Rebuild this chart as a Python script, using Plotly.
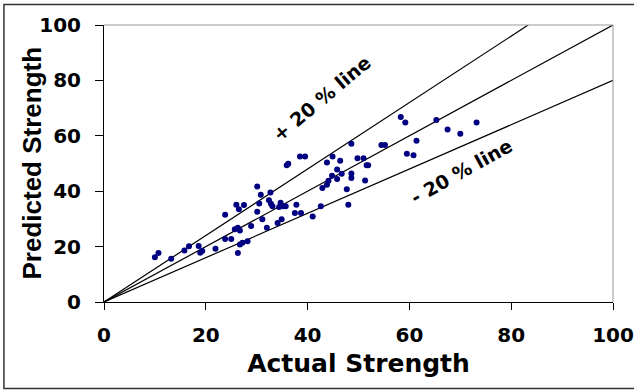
import plotly.graph_objects as go

# Data
actual = [10.0, 10.7, 13.2, 15.8, 16.7, 18.6, 18.9, 19.3, 21.9, 23.8, 23.8, 25.0, 25.7, 26.0,
          26.3, 26.3, 26.5, 26.7, 26.7, 27.2, 27.5, 28.2, 28.9, 30.1, 30.1, 30.5, 30.8, 31.1,
          32.0, 32.4, 32.7, 32.8, 33.1, 34.1, 34.4, 34.7, 34.9, 35.2, 35.7, 35.9, 36.2, 37.5,
          37.8, 38.5, 38.7, 39.5, 41.0, 42.6, 42.9, 43.8, 43.8, 44.1, 44.8, 44.9, 45.8, 45.8,
          46.4, 46.7, 47.7, 48.0, 48.6, 48.6, 48.6, 49.8, 51.0, 51.3, 51.6, 51.9, 54.5, 55.2,
          58.3, 59.2, 59.5, 60.8, 61.4, 65.3, 67.5, 70.0, 73.2]
predicted = [16.2, 17.7, 15.6, 18.6, 20.1, 20.2, 17.8, 18.4, 19.2, 31.5, 22.7, 22.7, 26.3, 35.1,
             26.8, 17.7, 33.5, 25.8, 20.8, 21.4, 35.0, 21.9, 27.4, 41.7, 32.6, 35.6, 38.7, 29.9,
             26.8, 36.7, 39.5, 35.5, 34.6, 28.5, 34.3, 35.8, 29.9, 34.6, 34.6, 49.4, 49.9, 32.1,
             35.1, 52.5, 32.1, 52.5, 30.9, 34.6, 41.2, 50.4, 42.3, 43.8, 45.6, 52.5, 44.4, 47.8,
             51.0, 46.3, 40.7, 35.1, 57.1, 46.4, 44.8, 51.9, 51.9, 43.9, 49.4, 49.4, 56.7, 56.7,
             66.8, 64.8, 53.5, 53.0, 58.2, 65.7, 62.3, 60.7, 64.8]

ratios = [0.8, 1.0, 1.2]          # -20 %, equality, +20 % lines
axis_max = 100
tick_vals = [0, 20, 40, 60, 80, 100]
label_plus = "+ 20 % line"
label_minus = "- 20 % line"
x_title = "Actual Strength"
y_title = "Predicted Strength"

fig = go.Figure()

for r in ratios:
    x_end = min(axis_max, axis_max / r)
    fig.add_trace(go.Scatter(x=[0, x_end], y=[0, x_end * r], mode="lines",
                             line=dict(color="black", width=1.2),
                             showlegend=False, hoverinfo="skip"))

fig.add_trace(go.Scatter(x=actual, y=predicted, mode="markers",
                         marker=dict(color="#000080", size=6),
                         showlegend=False))

tick_font = dict(family="DejaVu Sans", size=20, color="black", weight="bold")

fig.update_xaxes(range=[0, axis_max], tickvals=tick_vals, showgrid=False, zeroline=False,
                 showline=True, linecolor="black", linewidth=1, automargin=False,
                 ticks="outside", ticklen=7, tickcolor="black", tickwidth=1,
                 tickfont=tick_font, ticklabelstandoff=8,
                 title=dict(text=x_title, standoff=8,
                            font=dict(family="DejaVu Sans", size=25, color="black", weight="bold")))
fig.update_yaxes(range=[0, axis_max], tickvals=tick_vals, showgrid=False, zeroline=False,
                 showline=True, linecolor="black", linewidth=1, automargin=False,
                 ticks="outside", ticklen=8, tickcolor="black", tickwidth=1,
                 tickfont=tick_font, ticklabelstandoff=10)

# y-axis title placed precisely as a rotated annotation
fig.add_annotation(xref="paper", yref="paper", x=0, y=0.5, xshift=-73, text=y_title,
                   showarrow=False, textangle=-90, xanchor="center", yanchor="middle",
                   font=dict(family="Liberation Sans", size=26, color="black", weight="bold"))

ann_font = dict(family="DejaVu Sans", size=19, color="black", weight="bold")
fig.add_annotation(x=42.8, y=73.7, text=label_plus, showarrow=False, textangle=-40,
                   font=ann_font, xanchor="center", yanchor="middle")
fig.add_annotation(x=70.3, y=47.3, text=label_minus, showarrow=False, textangle=-29,
                   font=ann_font, xanchor="center", yanchor="middle")

# grey top/right frame of the plot area
fig.add_shape(type="line", xref="paper", yref="paper", x0=0, y0=1, x1=1, y1=1,
              line=dict(color="#999999", width=1))
fig.add_shape(type="line", xref="paper", yref="paper", x0=1, y0=0, x1=1, y1=1,
              line=dict(color="#999999", width=1))
# outer chart border
fig.add_shape(type="rect", xref="paper", yref="paper", x0=-0.1966, y0=-0.312, x1=1.06, y1=1.0736,
              line=dict(color="#333333", width=1.5))

fig.update_layout(width=634, height=390, margin=dict(l=104, r=21, t=25, b=88),
                  plot_bgcolor="white", paper_bgcolor="white")

fig.write_html("out.html")
